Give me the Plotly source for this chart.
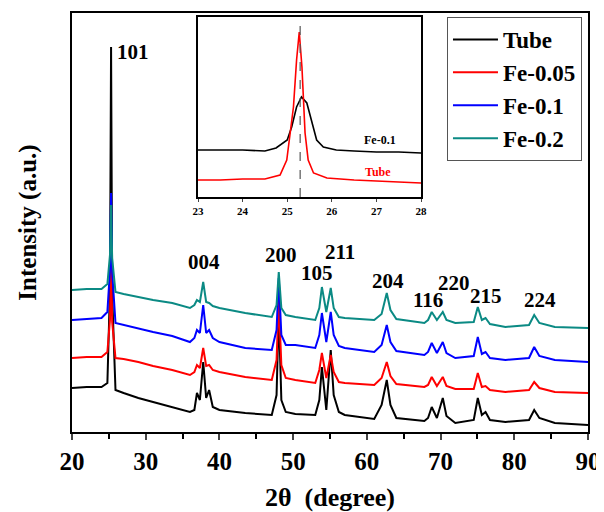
import plotly.graph_objects as go

# ---------------- data ----------------
two_theta = [20, 22, 24, 24.8, 25.15, 25.3, 25.45, 25.9, 27, 29, 31, 33.6, 36, 36.6,
             36.95, 37.35, 37.8, 38.2, 38.6, 39.1, 40, 43.5, 47.1, 47.75, 48.05, 48.4,
             49, 50.3, 53, 53.55, 53.9, 54.5, 55.1, 55.5, 56.2, 57, 61, 62.0, 62.7,
             63.2, 64, 67.8, 68.3, 68.8, 69.5, 70.3, 70.8, 72, 74.5, 75.05, 75.6, 76.1,
             76.7, 78.8, 82.0, 82.7, 83.4, 85.5, 90]

tube = [44, 45, 45, 49, 142, 385, 137, 42, 39, 34, 30, 25, 20, 22, 39, 32, 70, 34, 42,
        25, 22, 19, 17, 37, 122, 32, 20, 18, 17, 32, 65, 22, 82, 37, 20, 17, 13, 27, 52,
        27, 14, 11, 14, 25, 14, 34, 16, 9, 12, 34, 17, 20, 12, 10, 12, 22, 14, 9, 7]
fe005 = [74, 75, 75, 80, 112, 175, 110, 74, 73, 70, 66, 62, 57, 60, 67, 64, 84, 66, 67,
         62, 60, 55, 52, 72, 132, 67, 54, 52, 49, 62, 79, 54, 77, 60, 50, 49, 47, 54, 70,
         56, 48, 45, 47, 55, 46, 55, 46, 43, 43, 59, 45, 46, 42, 40, 42, 50, 44, 40, 39]
fe01 = [112, 113, 114, 120, 162, 239, 160, 109, 107, 104, 100, 96, 90, 94, 102, 99, 127,
        99, 102, 94, 90, 84, 82, 102, 154, 97, 87, 87, 84, 97, 119, 90, 120, 97, 86, 84,
        80, 87, 107, 90, 81, 77, 80, 89, 79, 90, 79, 74, 76, 95, 78, 80, 74, 72, 74, 85,
        76, 72, 70]
fe02 = [142, 143, 143, 148, 177, 227, 174, 140, 138, 135, 132, 129, 124, 127, 132, 130,
        150, 130, 129, 126, 124, 119, 115, 127, 160, 124, 117, 115, 112, 124, 145, 120,
        144, 124, 115, 114, 112, 118, 139, 122, 113, 109, 112, 120, 112, 120, 112, 109,
        110, 125, 112, 114, 108, 105, 107, 117, 109, 105, 104]

series_names = ["Tube", "Fe-0.05", "Fe-0.1", "Fe-0.2"]

# peak labels (hkl) and where they sit (2theta, intensity)
peak_labels = ["101", "004", "200", "105", "211", "204", "116", "220", "215", "224"]
label_x = [25.83, 37.9, 48.36, 53.24, 56.36, 62.88, 68.3, 71.83, 76.17, 83.5]
label_y = [380, 170, 177, 159, 180, 151, 132, 149, 136, 132]

# inset: zoom on the (101) reflection
inset_fe01_x = [23, 23.5, 24, 24.5, 24.75, 25.0, 25.1, 25.21, 25.32, 25.44, 25.55, 25.66,
                25.81, 26.1, 26.5, 27, 27.5, 28]
inset_fe01_y = [47, 47, 47, 46, 49, 57, 70, 90, 100, 94, 74, 57, 50, 47, 46, 45, 45, 44]
inset_tube_x = [23, 23.5, 24, 24.5, 24.84, 24.99, 25.14, 25.21, 25.27, 25.33, 25.40,
                25.47, 25.59, 25.89, 26.5, 27, 27.5, 28]
inset_tube_y = [17, 17, 18, 18, 22, 37, 90, 137, 165, 130, 64, 37, 24, 19, 17, 16, 15, 14]
ref_peak = 25.29

# ---------------- figure ----------------
colors = ["#000000", "#ff0000", "#0000ff", "#0b8a84"]
SERIF = "Liberation Serif"

fig = go.Figure()
for name, ys, c in zip(series_names, [tube, fe005, fe01, fe02], colors):
    fig.add_trace(go.Scatter(x=two_theta, y=ys, mode="lines", name=name,
                             line=dict(color=c, width=2), xaxis="x", yaxis="y"))

fig.add_trace(go.Scatter(x=inset_fe01_x, y=inset_fe01_y, mode="lines", showlegend=False,
                         line=dict(color="#000000", width=1.6), xaxis="x2", yaxis="y2"))
fig.add_trace(go.Scatter(x=inset_tube_x, y=inset_tube_y, mode="lines", showlegend=False,
                         line=dict(color="#ff0000", width=1.6), xaxis="x2", yaxis="y2"))

ann = []
for i, (t, x, y) in enumerate(zip(peak_labels, label_x, label_y)):
    ann.append(dict(x=x, y=y, xref="x", yref="y", text=t, showarrow=False,
                    xanchor="left" if i == 0 else "center", yanchor="middle",
                    font=dict(family=SERIF, size=21, color="black", weight="bold")))
ann.append(dict(x=27.08, y=57, xref="x2", yref="y2", text="Fe-0.1", showarrow=False,
                font=dict(family=SERIF, size=12, color="black", weight="bold")))
ann.append(dict(x=27.04, y=25, xref="x2", yref="y2", text="Tube", showarrow=False,
                font=dict(family=SERIF, size=12, color="#ff0000", weight="bold")))

fig.update_layout(
    width=596, height=504,
    margin=dict(l=64, r=16, t=5, b=80, autoexpand=False),
    paper_bgcolor="white", plot_bgcolor="white",
    font=dict(family=SERIF, color="black"),
    xaxis=dict(range=[20, 90], dtick=10, tick0=20, showgrid=False, zeroline=False,
               automargin=False,
               ticks="outside", ticklen=6, tickwidth=2, showline=True, linewidth=2,
               linecolor="black", mirror=True,
               minor=dict(dtick=5, ticks="outside", ticklen=5, tickwidth=2, tickcolor="black"),
               tickfont=dict(family=SERIF, size=25, weight="bold"),
               title=dict(text="2θ  (degree)", standoff=16,
                          font=dict(family=SERIF, size=26, weight="bold"))),
    yaxis=dict(range=[0, 419], showgrid=False, zeroline=False, showticklabels=False,
               automargin=False,
               ticks="", showline=True, linewidth=2, linecolor="black", mirror=True,
               title=dict(text="Intensity (a.u.)", standoff=26,
                          font=dict(family=SERIF, size=25, weight="bold"))),
    xaxis2=dict(domain=[0.2442, 0.6764], anchor="y2", range=[23, 28], dtick=1,
                automargin=False,
                showgrid=False, zeroline=False, ticks="outside", ticklen=3, tickwidth=1,
                showline=True, linewidth=1.5, linecolor="black", mirror=True,
                tickfont=dict(family=SERIF, size=11, weight="bold")),
    yaxis2=dict(domain=[0.5609, 0.9905], anchor="x2", range=[0, 180], showgrid=False,
                automargin=False,
                zeroline=False, showticklabels=False, ticks="", showline=True,
                linewidth=1.5, linecolor="black", mirror=True),
    legend=dict(x=0.7267, y=0.9905, xanchor="left", yanchor="top",
                bgcolor="white", bordercolor="#555555", borderwidth=1,
                font=dict(family=SERIF, size=23, weight="bold"), itemwidth=45,
                tracegroupgap=0),
    annotations=ann,
    shapes=[dict(type="line", xref="x2", yref="y2 domain", x0=ref_peak, x1=ref_peak,
                 y0=0, y1=1, line=dict(color="#555555", width=1.2, dash="dash"))],
    showlegend=True,
)

fig.write_html("out.html")
